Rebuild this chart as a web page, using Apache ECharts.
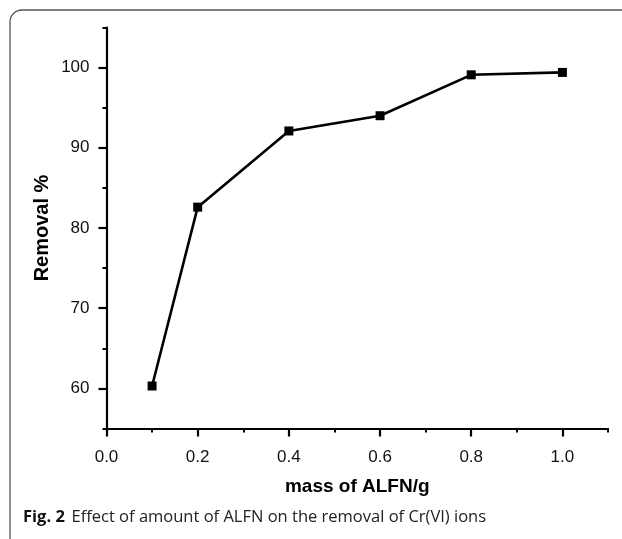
<!DOCTYPE html>
<html>
<head>
<meta charset="utf-8">
<script src="https://cdn.jsdelivr.net/npm/echarts@6/dist/echarts.min.js"></script>
<style>
html,body{margin:0;padding:0;background:#fff;}
#chart{width:622px;height:539px;}
</style>
</head>
<body>
<div id="chart"></div>
<script>
// Data
const massValues = [0.1, 0.2, 0.4, 0.6, 0.8, 1.0];
const removalValues = [60.3, 82.6, 92.1, 94.0, 99.1, 99.4];
const xTickLabels = [0.0, 0.2, 0.4, 0.6, 0.8, 1.0];
const yTickLabels = [60, 70, 80, 90, 100];
const xTitle = 'mass of ALFN/g';
const yTitle = 'Removal %';
const captionBold = 'Fig. 2';
const captionText = 'Effect of amount of ALFN on the removal of Cr(VI) ions';

const chart = echarts.init(document.getElementById('chart'), null, {renderer: 'canvas'});
const FONT = 'Liberation Sans, Arial, sans-serif';
const seriesData = massValues.map((m, i) => [m, removalValues[i]]);

const option = {
  backgroundColor: '#fff',
  animation: false,
  grid: {left: 106.5, right: 14, top: 27.5, bottom: 110.5, containLabel: false},
  xAxis: [
    {
      type: 'value', min: 0, max: 1.1, interval: 0.1, position: 'bottom',
      axisLine: {show: true, onZero: false, lineStyle: {color: '#000', width: 2.2}},
      axisTick: {show: true, length: 4, lineStyle: {color: '#000', width: 2}},
      axisLabel: {show: false},
      splitLine: {show: false},
      name: xTitle, nameLocation: 'middle', nameGap: 49,
      nameTextStyle: {fontFamily: FONT, fontSize: 19, fontWeight: 'bold', color: '#000'}
    },
    {
      type: 'value', min: 0, max: 1.1, interval: 0.1, position: 'bottom',
      axisLine: {show: false, onZero: false},
      axisTick: {show: true, length: 8, customValues: xTickLabels, lineStyle: {color: '#000', width: 2.2}},
      axisLabel: {show: true, customValues: xTickLabels, margin: 20,
        formatter: v => Number(v).toFixed(1),
        fontFamily: FONT, fontSize: 17, color: '#111'},
      splitLine: {show: false}
    }
  ],
  yAxis: [
    {
      type: 'value', min: 55, max: 105, interval: 5, position: 'left',
      axisLine: {show: true, onZero: false, lineStyle: {color: '#000', width: 2.2}},
      axisTick: {show: true, length: 4, lineStyle: {color: '#000', width: 2}},
      axisLabel: {show: false},
      splitLine: {show: false},
      name: yTitle, nameLocation: 'middle', nameGap: 54, nameRotate: 90,
      nameTextStyle: {fontFamily: FONT, fontSize: 20, fontWeight: 'bold', color: '#000', padding: [0, 0, 0, 0]}
    },
    {
      type: 'value', min: 55, max: 105, interval: 5, position: 'left',
      axisLine: {show: false, onZero: false},
      axisTick: {show: true, length: 8, customValues: yTickLabels, lineStyle: {color: '#000', width: 2.2}},
      axisLabel: {show: true, customValues: yTickLabels, margin: 17,
        fontFamily: FONT, fontSize: 17, color: '#111'},
      splitLine: {show: false}
    }
  ],
  series: [{
    type: 'line',
    xAxisIndex: 0, yAxisIndex: 0,
    data: seriesData,
    symbol: 'rect', symbolSize: 9,
    lineStyle: {color: '#000', width: 2.6},
    itemStyle: {color: '#000'},
    z: 5
  }],
  graphic: [
    {
      type: 'rect', silent: true,
      shape: {x: 10, y: 10, width: 640, height: 560, r: 12},
      style: {fill: 'none', stroke: '#555', lineWidth: 1.3}
    },
    {
      type: 'text', left: 23, top: 509, silent: true,
      style: {
        text: '{b|' + captionBold + '}  {n|' + captionText + '}',
        rich: {
          b: {fontFamily: 'Open Sans, sans-serif', fontWeight: 'bold', fontSize: 16.5, fill: '#111'},
          n: {fontFamily: 'Open Sans, sans-serif', fontSize: 16.5, fill: '#222'}
        }
      }
    }
  ]
};
chart.setOption(option);
</script>
</body>
</html>
